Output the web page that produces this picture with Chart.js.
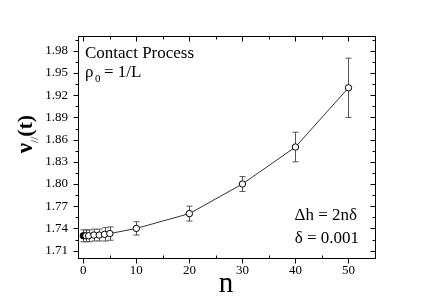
<!DOCTYPE html>
<html lang="en">
<head>
    <meta charset="UTF-8">
    <title>Contact process nu(t)</title>
    <script src="https://cdn.jsdelivr.net/npm/chart.js@4.4.0/dist/chart.umd.min.js"></script>
    <style>
      body { margin: 0; background: #fff; }
    </style>
</head>
<body>

<canvas id="myChart" width="436" height="308"></canvas>

<script>
// data
const nValues = [0, 0.5, 1, 2, 3, 4, 5, 10, 20, 30, 40, 50];
const nuValues = [1.730, 1.730, 1.730, 1.731, 1.731, 1.732, 1.733, 1.740, 1.760, 1.800, 1.850, 1.930];
const nuErrors = [0.008, 0.008, 0.008, 0.008, 0.008, 0.009, 0.009, 0.009, 0.010, 0.010, 0.020, 0.040];
const xTicks = [0, 10, 20, 30, 40, 50];
const yTicks = [1.71, 1.74, 1.77, 1.80, 1.83, 1.86, 1.89, 1.92, 1.95, 1.98];

const serif = "'Liberation Serif', 'Times New Roman', serif";

const points = nValues.map((n, i) => ({x: n, y: nuValues[i]}));

// box, ticks, error bars and text
const framePlugin = {
  id: 'frame',
  beforeDatasetsDraw(chart) {
    const ctx = chart.ctx;
    const xs = chart.scales.x, ys = chart.scales.y;
    ctx.save();
    ctx.strokeStyle = '#555';
    ctx.lineWidth = 1;
    nValues.forEach((n, i) => {
      const px = Math.round(xs.getPixelForValue(n)) + 0.5;
      const top = ys.getPixelForValue(nuValues[i] + nuErrors[i]);
      const bot = ys.getPixelForValue(nuValues[i] - nuErrors[i]);
      ctx.beginPath();
      ctx.moveTo(px, top); ctx.lineTo(px, bot);
      ctx.moveTo(px - 3, top); ctx.lineTo(px + 3, top);
      ctx.moveTo(px - 3, bot); ctx.lineTo(px + 3, bot);
      ctx.stroke();
    });
    ctx.restore();
  },
  afterDraw(chart) {
    const ctx = chart.ctx;
    const a = chart.chartArea;
    const xs = chart.scales.x, ys = chart.scales.y;
    ctx.save();
    ctx.strokeStyle = '#000';
    ctx.lineWidth = 1;
    const L = Math.round(a.left) + 0.5, R = Math.round(a.right) + 0.5;
    const T = Math.round(a.top) + 0.5, B = Math.round(a.bottom) + 0.5;
    ctx.strokeRect(L, T, R - L, B - T);

    ctx.beginPath();
    yTicks.forEach(v => {
      const py = Math.round(ys.getPixelForValue(v)) + 0.5;
      ctx.moveTo(L - 5, py); ctx.lineTo(L, py);
      ctx.moveTo(R, py); ctx.lineTo(R - 5, py);
      const pm = Math.round(ys.getPixelForValue(v + 0.015)) + 0.5;
      ctx.moveTo(L - 3, pm); ctx.lineTo(L, pm);
      ctx.moveTo(R, pm); ctx.lineTo(R - 3, pm);
    });
    xTicks.forEach(v => {
      const px = Math.round(xs.getPixelForValue(v)) + 0.5;
      ctx.moveTo(px, B); ctx.lineTo(px, B + 5);
      ctx.moveTo(px, T); ctx.lineTo(px, T + 5);
      const pm = Math.round(xs.getPixelForValue(v + 5)) + 0.5;
      ctx.moveTo(pm, B); ctx.lineTo(pm, B - 3);
      ctx.moveTo(pm, T); ctx.lineTo(pm, T + 3);
    });
    ctx.stroke();

    // labels inside the plot
    ctx.fillStyle = '#000';
    ctx.textBaseline = 'alphabetic';
    ctx.textAlign = 'left';
    ctx.font = '17px ' + serif;
    ctx.fillText('Contact Process', 85, 58);
    ctx.fillText('\u03C1', 85, 77);
    ctx.font = '11px ' + serif;
    ctx.fillText('0', 95, 82);
    ctx.font = '17px ' + serif;
    ctx.fillText('= 1/L', 104, 77);

    ctx.textAlign = 'right';
    ctx.fillText('\u0394h = 2n\u03B4', 357, 220);
    ctx.fillText('\u03B4 = 0.001', 359, 243);

    // axis titles
    ctx.textAlign = 'center';
    ctx.font = '29px ' + serif;
    ctx.fillText('n', 226, 292);

    ctx.translate(32, 134);
    ctx.rotate(-Math.PI / 2);
    ctx.textAlign = 'left';
    ctx.font = 'bold 23px ' + serif;
    const w1 = ctx.measureText('\u03BD').width;
    ctx.font = '11px ' + serif;
    const w2 = ctx.measureText('//').width;
    ctx.font = 'bold 22px ' + serif;
    const w3 = ctx.measureText('(t)').width;
    let x0 = -(w1 + w2 + w3) / 2;
    ctx.font = 'bold 23px ' + serif;
    ctx.fillText('\u03BD', x0, 0);
    ctx.font = '11px ' + serif;
    ctx.fillText('//', x0 + w1, 6);
    ctx.font = 'bold 22px ' + serif;
    ctx.fillText('(t)', x0 + w1 + w2, 0);
    ctx.restore();
  }
};

const config = {
  type: 'scatter',
  data: {
    datasets: [{
      data: points,
      showLine: true,
      borderColor: '#333',
      borderWidth: 1,
      pointRadius: 3.2,
      pointBorderWidth: 1,
      pointBorderColor: '#000',
      pointBackgroundColor: ctx => ctx.dataIndex === 0 ? '#000' : '#fff'
    }]
  },
  options: {
    responsive: false,
    animation: false,
    layout: { padding: { top: 36, right: 61, left: 0, bottom: 0 } },
    plugins: { legend: { display: false }, tooltip: { enabled: false } },
    scales: {
      x: {
        type: 'linear',
        min: -1,
        max: 55,
        afterBuildTicks: s => { s.ticks = xTicks.map(v => ({value: v})); },
        afterFit: s => { s.height = 50; },
        grid: { display: false, drawTicks: false },
        border: { display: false },
        ticks: { padding: 5, color: '#000', font: { family: serif, size: 13 }, callback: v => v }
      },
      y: {
        min: 1.70,
        max: 2.00,
        afterBuildTicks: s => { s.ticks = yTicks.map(v => ({value: v})); },
        afterFit: s => { s.width = 78; },
        grid: { display: false, drawTicks: false },
        border: { display: false },
        ticks: { padding: 10, color: '#000', font: { family: serif, size: 13 }, callback: v => v.toFixed(2) }
      }
    }
  },
  plugins: [framePlugin]
};

new Chart(document.getElementById('myChart'), config);
</script>
</body>
</html>
